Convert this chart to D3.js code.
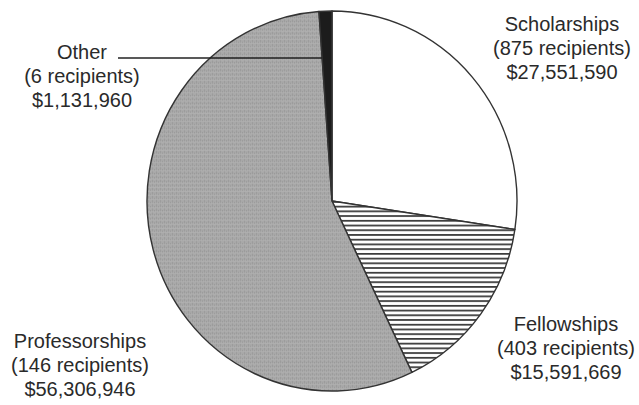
<!DOCTYPE html>
<html><head><meta charset="utf-8">
<script src="https://cdn.jsdelivr.net/npm/d3@7"></script>
<style>html,body{margin:0;padding:0;background:#fff;}</style>
</head><body>
<svg id="chart" width="639" height="405"></svg>
<script>
const categories = ["Scholarships", "Fellowships", "Professorships", "Other"];
const recipients = [875, 403, 146, 6];
const amounts = [27551590, 15591669, 56306946, 1131960];

const svg = d3.select("#chart");
const defs = svg.append("defs");

// textures
const hatch = defs.append("pattern").attr("id","hatch").attr("patternUnits","userSpaceOnUse")
  .attr("width",8).attr("height",4.6);
hatch.append("rect").attr("width",8).attr("height",4.6).attr("fill","#fff");
hatch.append("rect").attr("y",0).attr("width",8).attr("height",1.7).attr("fill","#3a3a3a");

const grain = defs.append("pattern").attr("id","grain").attr("patternUnits","userSpaceOnUse")
  .attr("width",4).attr("height",4);
grain.append("rect").attr("width",4).attr("height",4).attr("fill","#a8a8a8");
grain.append("rect").attr("x",0).attr("y",0).attr("width",1).attr("height",4).attr("fill","#9c9c9c");
grain.append("rect").attr("x",0).attr("y",2).attr("width",4).attr("height",1).attr("fill","#b2b2b2");
grain.append("rect").attr("x",2).attr("y",1).attr("width",1).attr("height",1).attr("fill","#969696");

const fills = ["#ffffff", "url(#hatch)", "url(#grain)", "#1c1c1c"];

const cx = 332, cy = 201, rx = 185, ry = 190;
const data = categories.map((c,i)=>({name:c, value:amounts[i], rec:recipients[i], fill:fills[i]}));

const pie = d3.pie().value(d=>d.value).sort(null);
const arcs = pie(data);
const arc = d3.arc().innerRadius(0).outerRadius(rx);

const g = svg.append("g").attr("transform",`translate(${cx},${cy}) scale(1,${ry/rx})`);
g.selectAll("path").data(arcs).join("path")
  .attr("d", arc)
  .attr("fill", d=>d.data.fill)
  .attr("stroke", "#333")
  .attr("stroke-width", 1.4)
  .attr("stroke-linejoin","round");

// leader line for Other: ends at the slice's left boundary
const other = arcs[3];
const ly = 58;
const uy = (ly - cy) * rx / ry;
const lx = cx + uy * Math.tan(other.startAngle - 2*Math.PI) * -1;
svg.append("line").attr("x1",118).attr("y1",ly).attr("x2",lx).attr("y2",ly)
  .attr("stroke","#222").attr("stroke-width",1.4);

const fmt = d3.format("$,");
const labelPos = [
  {x:562, y:31},
  {x:566, y:331},
  {x:80, y:348},
  {x:82, y:59}
];
data.forEach((d,i)=>{
  const lines = [d.name, `(${d.rec} recipients)`, fmt(d.value)];
  const t = svg.append("text").attr("text-anchor","middle")
    .attr("font-family","Liberation Sans, Arial, sans-serif").attr("font-size",20)
    .attr("fill","#2a2a2a");
  lines.forEach((s,k)=>{
    t.append("tspan").attr("x",labelPos[i].x).attr("y",labelPos[i].y + k*24).text(s);
  });
});
</script>
</body></html>
